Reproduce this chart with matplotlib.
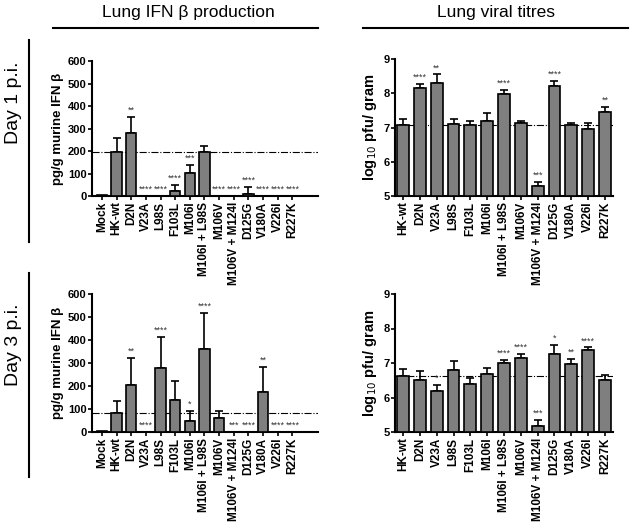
import numpy as np
import matplotlib
matplotlib.use("Agg")
import matplotlib.pyplot as plt

plt.rcParams['font.family'] = ['Liberation Sans', 'DejaVu Sans']

ifn_labels = ['Mock', 'HK-wt', 'D2N', 'V23A', 'L98S', 'F103L', 'M106I', 'M106I + L98S',
              'M106V', 'M106V + M124I', 'D125G', 'V180A', 'V226I', 'R227K']
titre_labels = ifn_labels[1:]

# Day 1
ifn_d1 = [3, 195, 278, 0, 0, 22, 103, 195, 0, 0, 8, 0, 0, 0]
ifn_d1_err = [0, 65, 74, 0, 0, 28, 37, 27, 0, 0, 32, 0, 0, 0]
ifn_d1_sig = ['', '', '**', '****', '****', '****', '***', '', '****', '****', '****', '****', '****', '****']
titre_d1 = [7.08, 8.15, 8.30, 7.10, 7.08, 7.18, 7.98, 7.12, 5.28, 8.22, 7.07, 6.95, 7.45]
titre_d1_err = [0.18, 0.13, 0.25, 0.15, 0.10, 0.24, 0.12, 0.08, 0.12, 0.13, 0.05, 0.18, 0.16]
titre_d1_sig = ['', '****', '**', '', '', '', '****', '', '***', '****', '', '', '**']

# Day 3
ifn_d3 = [3, 82, 203, 0, 280, 140, 47, 362, 60, 0, 0, 175, 0, 0]
ifn_d3_err = [0, 53, 120, 0, 135, 80, 43, 156, 33, 0, 0, 107, 0, 0]
ifn_d3_sig = ['', '', '**', '****', '****', '', '*', '****', '', '***', '****', '**', '****', '****']
titre_d3 = [6.63, 6.50, 6.20, 6.80, 6.38, 6.67, 7.00, 7.15, 5.17, 7.25, 6.97, 7.37, 6.52]
titre_d3_err = [0.19, 0.27, 0.17, 0.26, 0.19, 0.18, 0.10, 0.12, 0.19, 0.27, 0.15, 0.08, 0.13]
titre_d3_sig = ['', '', '*', '', '', '', '****', '****', '***', '*', '**', '****', '']


def style_axes(ax):
    for s in ['top', 'right']:
        ax.spines[s].set_visible(False)
    for s in ['left', 'bottom']:
        ax.spines[s].set_linewidth(1.5)
    ax.tick_params(axis='both', width=1.2, length=3, direction='out', pad=1)
    for t in ax.get_yticklabels():
        t.set_fontweight('bold')
        t.set_fontsize(8)


def bar_panel(ax, labels, vals, errs, sigs, base, ylim, yticks, ref, ylabel, xlim):
    x = np.arange(len(labels))
    vals = np.array(vals)
    errs = np.array(errs)
    ax.axhline(ref, color='black', lw=0.8, ls='-.', zorder=1)
    ax.bar(x, vals - base, bottom=base, width=0.7, color='#7f7f7f',
           edgecolor='black', linewidth=1.2, zorder=3)
    for xi, v, e in zip(x, vals, errs):
        if e > 0:
            ax.errorbar(xi, v, yerr=[[0], [e]], fmt='none', ecolor='black',
                        elinewidth=1.2, capsize=3, capthick=1.2, zorder=2)
    for xi, v, e, s in zip(x, vals, errs, sigs):
        if s:
            ax.annotate(s, (xi, v + e), xytext=(0, 1.5), textcoords='offset points',
                        ha='center', va='bottom', fontsize=6.5, color='#333333')
    ax.set_ylim(*ylim)
    ax.set_xlim(*xlim)
    ax.set_yticks(yticks)
    ax.set_xticks(x)
    ax.set_xticklabels(labels, rotation=90, fontsize=8.5, fontweight='bold')
    ax.set_ylabel(ylabel, fontweight='bold', labelpad=3)
    style_axes(ax)


fig = plt.figure(figsize=(6.32, 5.24), dpi=100)

ifn_label = 'pg/g murine IFN \u03b2'
titre_label = r'log$_{10}$ pfu/ gram'

ax1 = fig.add_axes([92/632, 1-196/524, 226/632, 135/524])
bar_panel(ax1, ifn_labels, ifn_d1, ifn_d1_err, ifn_d1_sig, 0, (0, 600),
          range(0, 601, 100), ifn_d1[1], ifn_label, (-0.68, 14.75))
ax2 = fig.add_axes([395/632, 1-196/524, 218/632, 137/524])
bar_panel(ax2, titre_labels, titre_d1, titre_d1_err, titre_d1_sig, 5, (5, 9),
          range(5, 10), titre_d1[0], titre_label, (-0.48, 12.48))
ax3 = fig.add_axes([92/632, 1-432/524, 226/632, 138/524])
bar_panel(ax3, ifn_labels, ifn_d3, ifn_d3_err, ifn_d3_sig, 0, (0, 600),
          range(0, 601, 100), ifn_d3[1], ifn_label, (-0.68, 14.75))
ax4 = fig.add_axes([395/632, 1-432/524, 218/632, 138/524])
bar_panel(ax4, titre_labels, titre_d3, titre_d3_err, titre_d3_sig, 5, (5, 9),
          range(5, 10), titre_d3[0], titre_label, (-0.48, 12.48))

for a in (ax1, ax3):
    a.yaxis.label.set_size(9.5)
for a in (ax2, ax4):
    a.yaxis.label.set_size(10.5)

# titles and separators
fig.text(188/632, 1-12/524, 'Lung IFN \u03b2 production', ha='center', va='center', fontsize=12.5)
fig.text(496/632, 1-12/524, 'Lung viral titres', ha='center', va='center', fontsize=12.5)
fig.add_artist(plt.Line2D([53/632, 318/632], [1-28/524, 1-28/524], color='black', lw=1.5))
fig.add_artist(plt.Line2D([363/632, 628/632], [1-28/524, 1-28/524], color='black', lw=1.5))

fig.text(13/632, 1-103/524, 'Day 1 p.i.', rotation=90, ha='center', va='center', fontsize=14)
fig.text(13/632, 1-345/524, 'Day 3 p.i.', rotation=90, ha='center', va='center', fontsize=14)
fig.add_artist(plt.Line2D([29/632, 29/632], [1-40/524, 1-242/524], color='black', lw=1.5))
fig.add_artist(plt.Line2D([29/632, 29/632], [1-273/524, 1-477/524], color='black', lw=1.5))

fig.savefig('out.png', dpi=100)
